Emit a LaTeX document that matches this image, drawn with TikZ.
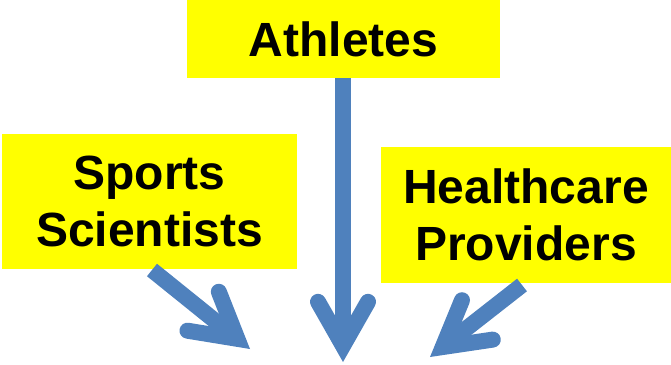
\documentclass[tikz,border=0pt]{standalone}
\usepackage{fontspec}
\setmainfont{Liberation Sans}
\usetikzlibrary{positioning,arrows.meta}
\definecolor{boxyellow}{HTML}{FFFF00}
\definecolor{arrowblue}{HTML}{4F81BD}
\tikzset{group/.style={fill=boxyellow,inner sep=0pt,align=center,
                       font=\fontsize{48}{57}\selectfont\bfseries},
         flow/.style={arrowblue,line width=16pt,
                      -{Straight Barb[length=44pt,width=50pt,line cap=round,line join=miter]}}
}
\begin{document}
\begin{tikzpicture}[x=1pt,y=1pt]
\useasboundingbox (0,0) rectangle (671,364);

\node[group,minimum width=313pt,minimum height=78pt] (athletes) at (343.5,325) {Athletes};
\node[group,minimum width=295pt,minimum height=135pt] (sports) at (149.5,162.5) {Sports\\Scientists};
\node[group,minimum width=290pt,minimum height=136pt] (health) at (526,149) {Healthcare\\Providers};
\coordinate (midtip) at (343,2);
\coordinate (lefttail) at (152,94);
\coordinate (lefttip) at (250,15);
\coordinate (righttail) at (522,79);
\coordinate (righttip) at (430,7);
\draw[flow] (athletes.south -| midtip)--(midtip);
\draw[flow] (lefttail)--(lefttip);
\draw[flow] (righttail)--(righttip);

\end{tikzpicture}
\end{document}
